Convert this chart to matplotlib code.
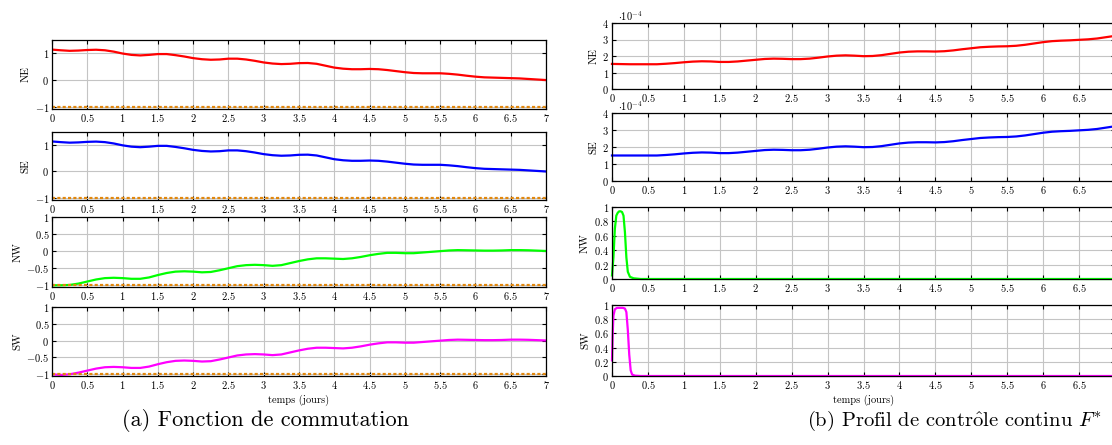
import numpy as np
import matplotlib
matplotlib.use('Agg')
import matplotlib.pyplot as plt
from matplotlib.ticker import FuncFormatter, MultipleLocator

plt.rcParams['font.family'] = ['cmr10', 'DejaVu Serif']
plt.rcParams['mathtext.fontset'] = 'cm'
plt.rcParams['axes.unicode_minus'] = False

# time samples (days), every 0.125 day
t = [0, 0.125, 0.25, 0.375, 0.5, 0.625, 0.75, 0.875, 1, 1.125, 1.25, 1.375, 1.5, 1.625,
     1.75, 1.875, 2, 2.125, 2.25, 2.375, 2.5, 2.625, 2.75, 2.875, 3, 3.125, 3.25, 3.375,
     3.5, 3.625, 3.75, 3.875, 4, 4.125, 4.25, 4.375, 4.5, 4.625, 4.75, 4.875, 5, 5.125,
     5.25, 5.375, 5.5, 5.625, 5.75, 5.875, 6, 6.125, 6.25, 6.375, 6.5, 6.625, 6.75, 6.875, 7]

# (a) switching function
ne_switch = [1.125, 1.10, 1.08, 1.09, 1.11, 1.12, 1.10, 1.05, 0.98, 0.93, 0.91, 0.93, 0.96,
             0.96, 0.92, 0.87, 0.81, 0.77, 0.75, 0.76, 0.79, 0.79, 0.76, 0.71, 0.65, 0.61,
             0.59, 0.60, 0.625, 0.63, 0.60, 0.53, 0.46, 0.42, 0.40, 0.40, 0.41, 0.40, 0.37,
             0.33, 0.29, 0.26, 0.25, 0.25, 0.25, 0.23, 0.20, 0.16, 0.125, 0.10, 0.09, 0.08,
             0.07, 0.06, 0.04, 0.02, 0.0]
se_switch = [1.125, 1.10, 1.08, 1.09, 1.11, 1.12, 1.10, 1.05, 0.98, 0.93, 0.91, 0.93, 0.96,
             0.96, 0.92, 0.87, 0.81, 0.77, 0.75, 0.76, 0.79, 0.79, 0.76, 0.71, 0.65, 0.61,
             0.59, 0.60, 0.625, 0.63, 0.60, 0.53, 0.46, 0.42, 0.40, 0.40, 0.41, 0.40, 0.37,
             0.33, 0.29, 0.26, 0.25, 0.25, 0.25, 0.23, 0.20, 0.16, 0.125, 0.10, 0.09, 0.08,
             0.07, 0.06, 0.04, 0.02, 0.0]
nw_switch = [-1.0, -1.0, -0.99, -0.95, -0.89, -0.83, -0.79, -0.78, -0.79, -0.81, -0.81, -0.77,
             -0.70, -0.64, -0.60, -0.59, -0.60, -0.62, -0.61, -0.56, -0.50, -0.44, -0.41,
             -0.40, -0.41, -0.43, -0.41, -0.35, -0.29, -0.24, -0.21, -0.21, -0.22, -0.23,
             -0.21, -0.17, -0.12, -0.08, -0.05, -0.05, -0.06, -0.06, -0.04, -0.02, 0.0, 0.02,
             0.03, 0.025, 0.02, 0.015, 0.015, 0.02, 0.03, 0.03, 0.025, 0.015, 0.005]
sw_switch = [-1.0, -1.02, -1.0, -0.95, -0.89, -0.83, -0.79, -0.78, -0.79, -0.81, -0.81, -0.77,
             -0.70, -0.64, -0.60, -0.59, -0.60, -0.62, -0.61, -0.56, -0.50, -0.44, -0.41,
             -0.40, -0.41, -0.43, -0.41, -0.35, -0.29, -0.24, -0.21, -0.21, -0.22, -0.23,
             -0.21, -0.17, -0.12, -0.08, -0.05, -0.05, -0.06, -0.06, -0.04, -0.02, 0.0, 0.02,
             0.03, 0.025, 0.02, 0.015, 0.015, 0.02, 0.03, 0.03, 0.025, 0.015, 0.005]
lower_bound = -1.0

# (b) continuous control profile, NE / SE in units of 1e-4
ne_ctrl = [1.52, 1.51, 1.50, 1.50, 1.50, 1.50, 1.53, 1.57, 1.62, 1.66, 1.68, 1.67, 1.64,
           1.64, 1.67, 1.72, 1.77, 1.82, 1.84, 1.83, 1.81, 1.81, 1.84, 1.90, 1.97, 2.02,
           2.04, 2.02, 1.99, 2.00, 2.05, 2.13, 2.21, 2.26, 2.28, 2.28, 2.27, 2.29, 2.34,
           2.41, 2.47, 2.53, 2.56, 2.58, 2.59, 2.62, 2.68, 2.76, 2.84, 2.90, 2.93, 2.95,
           2.98, 3.01, 3.06, 3.14, 3.22]
se_ctrl = [1.50, 1.50, 1.50, 1.50, 1.50, 1.50, 1.53, 1.57, 1.62, 1.66, 1.68, 1.67, 1.64,
           1.64, 1.67, 1.72, 1.77, 1.82, 1.84, 1.83, 1.81, 1.81, 1.84, 1.90, 1.97, 2.02,
           2.04, 2.02, 1.99, 2.00, 2.05, 2.13, 2.21, 2.26, 2.28, 2.28, 2.27, 2.29, 2.34,
           2.41, 2.47, 2.53, 2.56, 2.58, 2.59, 2.62, 2.68, 2.76, 2.84, 2.90, 2.93, 2.95,
           2.98, 3.01, 3.06, 3.14, 3.22]
t_nw_ctrl = [0, 0.02, 0.04, 0.06, 0.08, 0.1, 0.12, 0.14, 0.16, 0.18, 0.2, 0.22, 0.25, 0.3,
             0.4, 0.5, 7]
nw_ctrl = [0.05, 0.3, 0.7, 0.88, 0.92, 0.94, 0.94, 0.93, 0.88, 0.65, 0.3, 0.1, 0.03, 0.01,
           0.0, 0.0, 0.0]
t_sw_ctrl = [0, 0.01, 0.02, 0.04, 0.07, 0.1, 0.15, 0.18, 0.2, 0.22, 0.24, 0.26, 0.28, 0.32,
             0.4, 7]
sw_ctrl = [0.22, 0.6, 0.85, 0.94, 0.96, 0.96, 0.96, 0.95, 0.9, 0.65, 0.3, 0.08, 0.02, 0.005,
           0.0, 0.0]

names = ['NE', 'SE', 'NW', 'SW']
colors = ['#ff0000', '#0000ff', '#00ff00', '#ff00ff']
bound_color = '#e2870c'

W, H = 1112, 445
fig = plt.figure(figsize=(W / 100, H / 100), dpi=100)


def add_ax(x0, x1, top, bottom):
    return fig.add_axes([x0 / W, 1 - bottom / H, (x1 - x0) / W, (bottom - top) / H])


def make_fmt(hide_last=False):
    def fmt(v, pos):
        if hide_last and v > 6.9:
            return ''
        return '$%s$' % ('%g' % round(v, 6))
    return fmt


def style(ax, ylabel, ylim, ystep, sci=False, hide_last=False):
    ax.set_xlim(0, 7)
    ax.set_ylim(*ylim)
    ax.xaxis.set_major_locator(MultipleLocator(0.5))
    ax.yaxis.set_major_locator(MultipleLocator(ystep))
    ax.xaxis.set_major_formatter(FuncFormatter(make_fmt(hide_last)))
    ax.yaxis.set_major_formatter(FuncFormatter(make_fmt()))
    if sci:
        ax.text(0.012, 1.0, r'$\cdot 10^{-4}$', transform=ax.transAxes, fontsize=7.5,
                va='bottom', ha='left')
    ax.tick_params(direction='in', top=True, right=True, length=3, width=0.8,
                   labelsize=7.5, pad=2)
    ax.grid(True, color='#c4c4c4', lw=0.8)
    ax.set_axisbelow(True)
    for s in ax.spines.values():
        s.set_linewidth(0.9)
    ax.set_ylabel(ylabel, fontsize=8, labelpad=3)


# left column: switching function
left_rows = [(40, 109), (132, 200), (217, 287), (307, 376)]
left_data = [ne_switch, se_switch, nw_switch, sw_switch]
left_ylims = [(-1.07, 1.48), (-1.07, 1.48), (-1.05, 1.0), (-1.05, 1.0)]
left_steps = [1, 1, 0.5, 0.5]
for i, (top, bot) in enumerate(left_rows):
    ax = add_ax(52, 546, top, bot)
    ax.plot(t, left_data[i], color=colors[i], lw=1.6)
    ax.axhline(lower_bound, color=bound_color, lw=1.6, ls=(0, (1.4, 1.0)))
    style(ax, names[i], left_ylims[i], left_steps[i])
    if i == 3:
        ax.set_xlabel('temps (jours)', fontsize=7.5, labelpad=3)

# right column: control profile
right_rows = [(23, 89), (113, 181), (207, 279), (305, 376)]
right_t = [t, t, t_nw_ctrl, t_sw_ctrl]
right_data = [ne_ctrl, se_ctrl, nw_ctrl, sw_ctrl]
for i, (top, bot) in enumerate(right_rows):
    ax = add_ax(612, 1115, top, bot)
    ax.plot(right_t[i], right_data[i], color=colors[i], lw=1.6, clip_on=False)
    if i < 2:
        style(ax, names[i], (0, 4), 1, sci=True, hide_last=True)
    else:
        style(ax, names[i], (0, 1), 0.2, hide_last=True)
    if i == 3:
        ax.set_xlabel('temps (jours)', fontsize=7.5, labelpad=3)

fig.text(265 / W, 1 - 421 / H, '(a) Fonction de commutation', fontsize=16,
         ha='center', va='center')
fig.text(954 / W, 1 - 421 / H,
         r'(b) Profil de contr$\hat{\mathrm{o}}$le continu $F^{*}$', fontsize=14.8,
         ha='center', va='center')

fig.savefig('out.png', dpi=100)
